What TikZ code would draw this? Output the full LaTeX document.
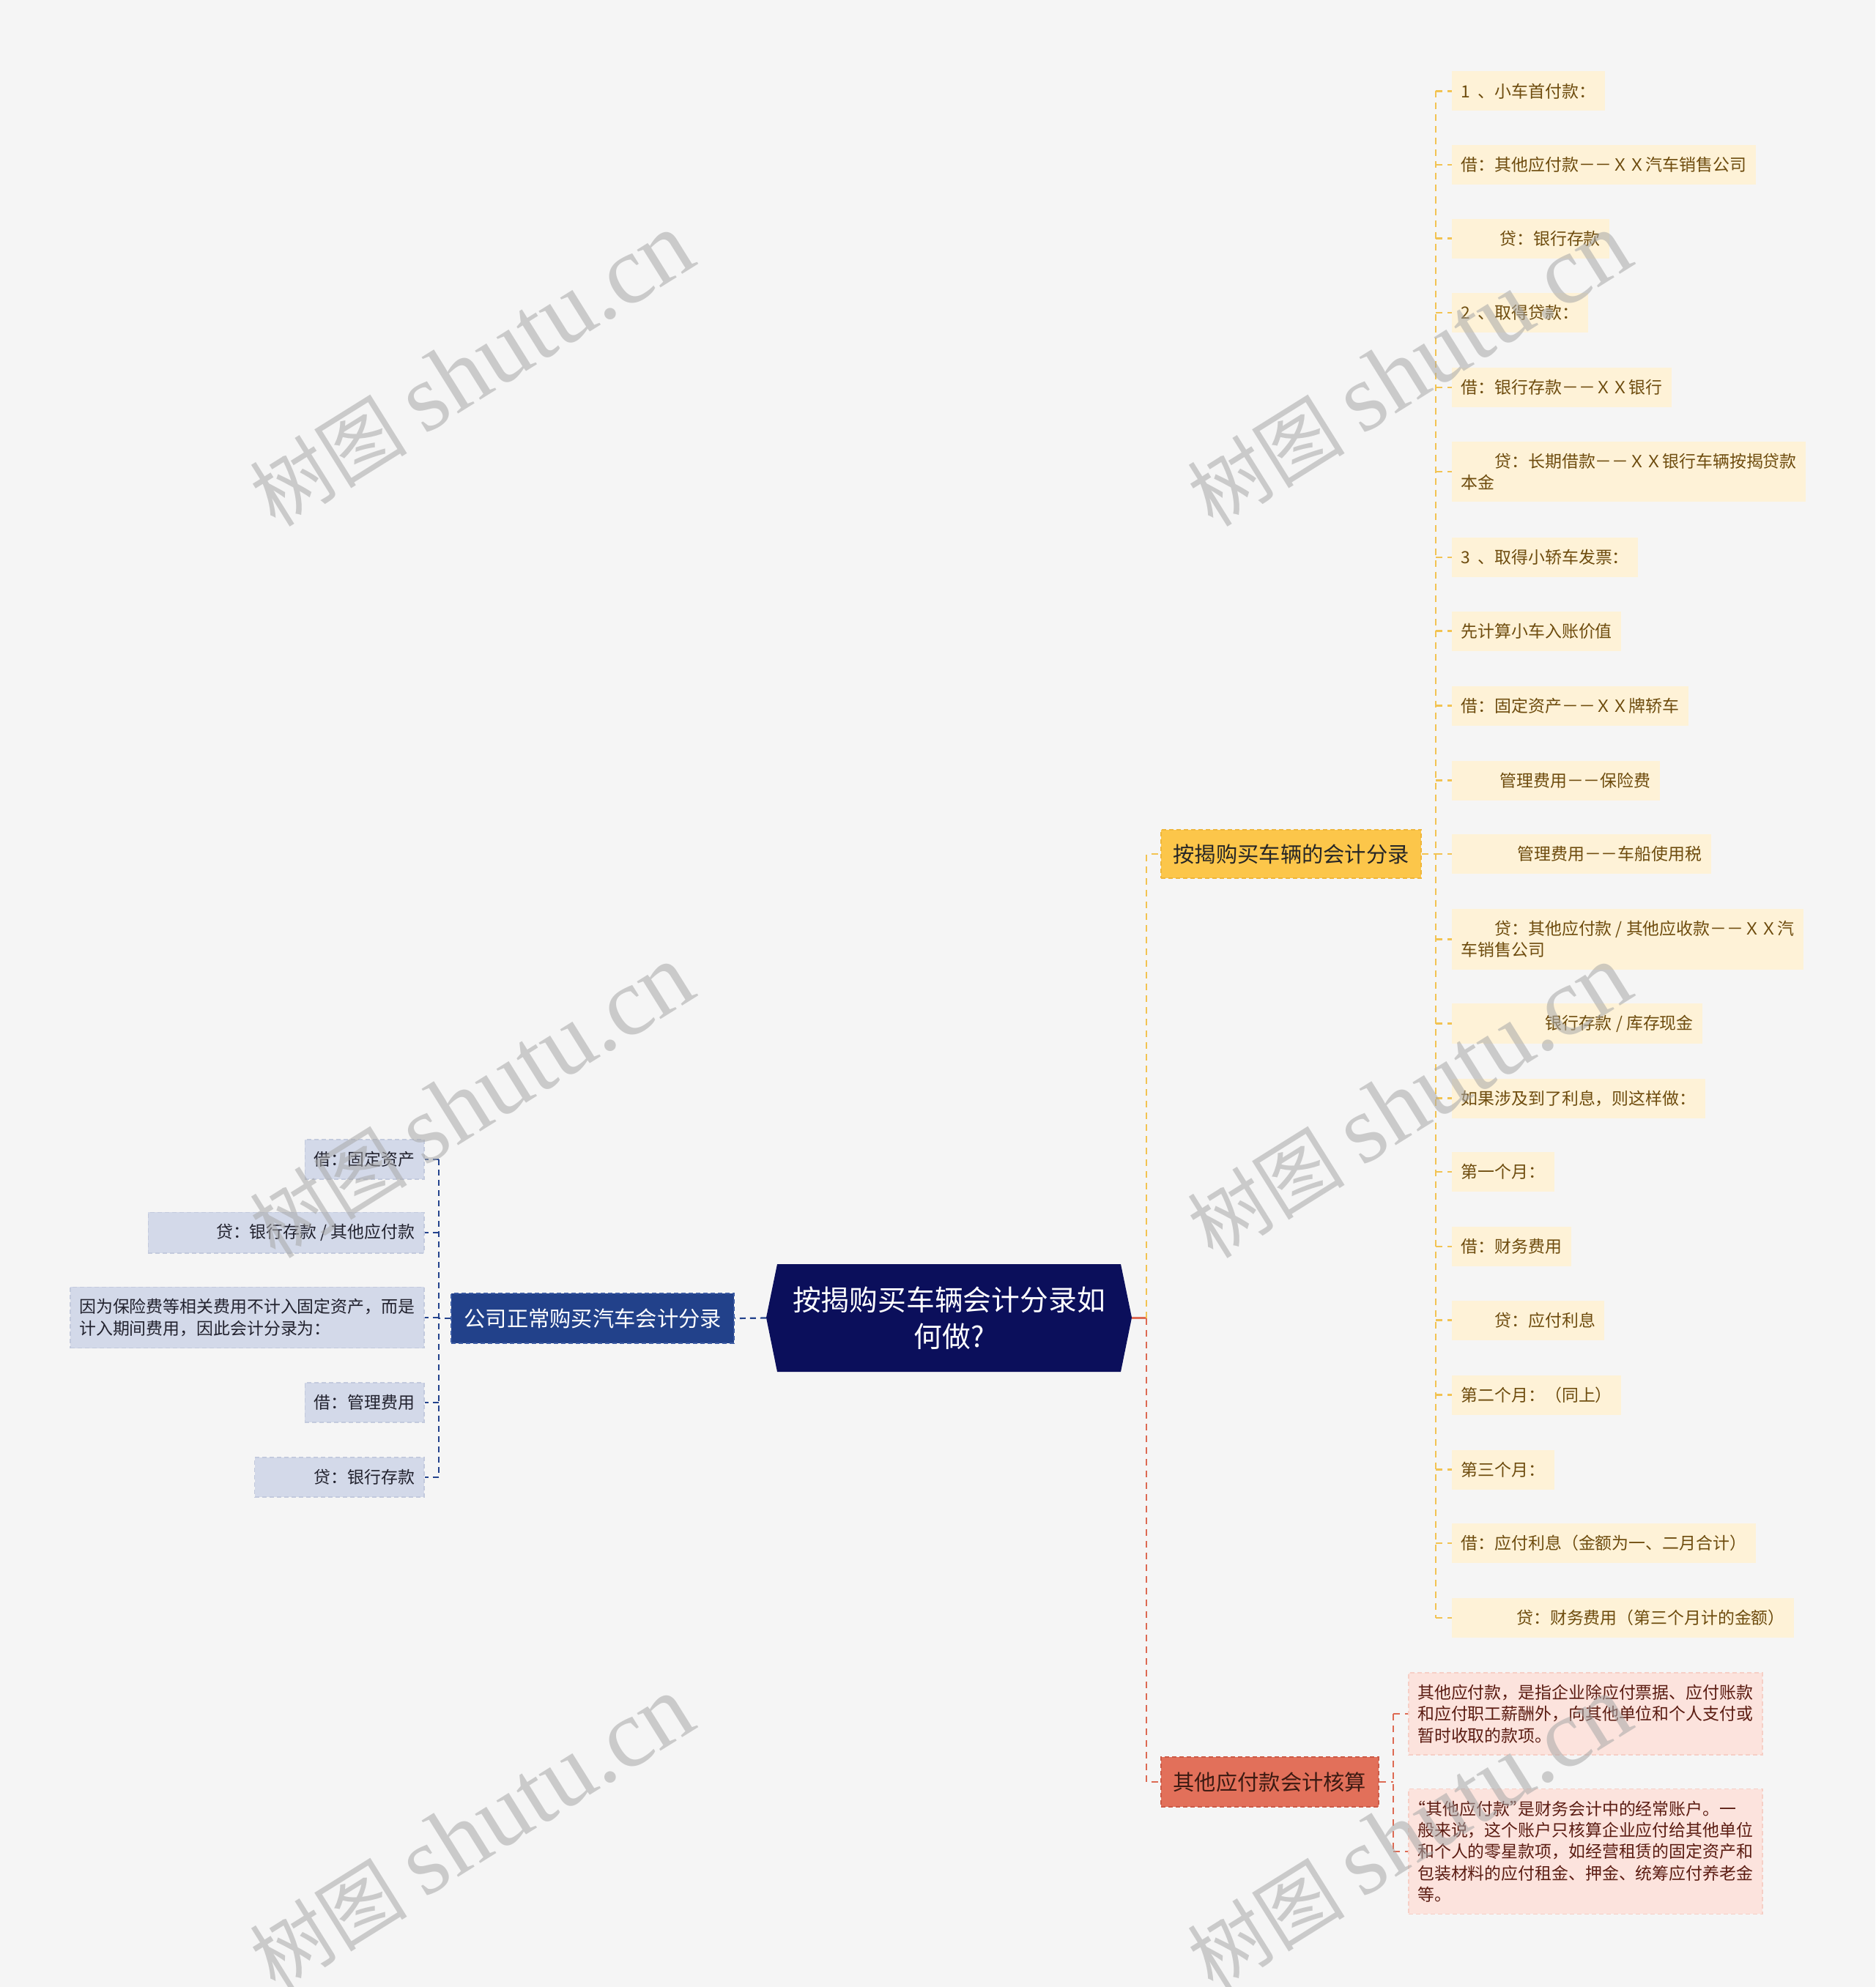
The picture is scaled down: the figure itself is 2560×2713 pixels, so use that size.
\documentclass[tikz,border=0pt]{standalone}
\usepackage{fontspec}
\newfontfamily\cjk{Noto Sans CJK SC}
\newfontfamily\wmlat{Liberation Serif}
\definecolor{bgc}{HTML}{F5F5F5}
\definecolor{rootc}{HTML}{0B0F5B}
\definecolor{bmainc}{HTML}{22418A}
\definecolor{bmaind}{HTML}{3D5CA3}
\definecolor{bleafc}{HTML}{D3D9E9}
\definecolor{bleafd}{HTML}{C3CADD}
\definecolor{bleaft}{HTML}{22222E}
\definecolor{ymainc}{HTML}{FCC64A}
\definecolor{ymaind}{HTML}{EFB63A}
\definecolor{yleafc}{HTML}{FEF2D7}
\definecolor{yleaft}{HTML}{6E4C0E}
\definecolor{rmainc}{HTML}{E2705A}
\definecolor{rmaind}{HTML}{CC5B47}
\definecolor{rleafc}{HTML}{FCE3DD}
\definecolor{rleafd}{HTML}{F6CFC6}
\definecolor{rleaft}{HTML}{5B1C12}
\definecolor{rmaint}{HTML}{3C1A12}
\definecolor{blinec}{HTML}{23428C}
\definecolor{ylinec}{HTML}{F2C352}
\definecolor{rlinec}{HTML}{DD6A53}
\definecolor{wmc}{HTML}{A8A8A8}
\newcommand{\myopenq}{\makebox[0.5em][r]{“}}
\newcommand{\mycloseq}{\makebox[0.5em][l]{”}}
\begin{document}
\begin{tikzpicture}[x=1pt,y=-1pt,
  leaffont/.style={font=\cjk\fontsize{22.9pt}{29.4pt}\selectfont},
  mainfont/.style={font=\cjk\fontsize{29.3pt}{36pt}\selectfont},
  mainbox/.style={mainfont, inner xsep=16.5pt, inner ysep=0pt, line width=2pt, dash pattern=on 6pt off 4pt},
  leafbox/.style={leaffont, inner xsep=12.5pt, inner ysep=16pt, minimum height=54pt, line width=1.5pt, dash pattern=on 6pt off 4pt},
  bmain/.style={mainbox, fill=bmainc, draw=bmaind, text=white, minimum height=68pt, inner xsep=17pt},
  ymain/.style={mainbox, fill=ymainc, draw=ymaind, text=black!85, minimum height=66pt},
  rmain/.style={mainbox, fill=rmainc, draw=rmaind, text=rmaint, minimum height=68pt},
  bleaf/.style={leafbox, fill=bleafc, draw=bleafd, text=bleaft, anchor=east},
  yleaf/.style={leafbox, fill=yleafc, text=yleaft, anchor=west},
  rleaf/.style={leafbox, fill=rleafc, draw=rleafd, text=rleaft, anchor=west, align=left},
  bline/.style={draw=blinec, line width=2.2pt, dash pattern=on 8pt off 6pt},
  yline/.style={draw=ylinec, line width=2.5pt, dash pattern=on 9pt off 7pt},
  rline/.style={draw=rlinec, line width=2.5pt, dash pattern=on 9pt off 7pt},
  wm/.style={text=wmc, opacity=0.55, rotate=32, inner sep=0pt}
]
\useasboundingbox (0,0) rectangle (2560,2713);
\fill[bgc] (0,0) rectangle (2560,2713);

% root
\fill[rootc] (1046,1799) -- (1061,1726) -- (1530,1726) -- (1545,1799) -- (1530,1873) -- (1061,1873) -- cycle;
\node[minimum width=499pt, minimum height=147pt, inner sep=0pt, text=white, align=center,
      font=\cjk\fontsize{38.8pt}{50pt}\selectfont] (root) at (1295.5,1799.5) {按揭购买车辆会计分录如\\何做?};

% main branches
\node[bmain, anchor=east] (bm) at (1003,1800) {公司正常购买汽车会计分录};
\node[ymain, anchor=west] (ym) at (1584,1166) {按揭购买车辆的会计分录};
\node[rmain, anchor=west] (rm) at (1584,2433) {其他应付款会计核算};

% left leaves
\node[bleaf] (b1) at (579.5,1583) {借：固定资产};
\node[bleaf] (b2) at (579.5,1683) {\hspace*{3.5em}贷：银行存款 / 其他应付款};
\node[bleaf, align=left] (b3) at (579.5,1799) {因为保险费等相关费用不计入固定资产，而是\\计入期间费用，因此会计分录为：};
\node[bleaf] (b4) at (579.5,1915) {借：管理费用};
\node[bleaf] (b5) at (579.5,2017) {\hspace*{3em}贷：银行存款};

% right yellow leaves
\node[yleaf] (y1) at (1981.5,124.5) {1\hspace{0.45em}、小车首付款：};
\node[yleaf] (y2) at (1981.5,225) {借：其他应付款－－ＸＸ汽车销售公司};
\node[yleaf] (y3) at (1981.5,325.5) {\hspace*{2.3em}贷：银行存款};
\node[yleaf] (y4) at (1981.5,427) {2\hspace{0.45em}、取得贷款：};
\node[yleaf] (y5) at (1981.5,529) {借：银行存款－－ＸＸ银行};
\node[yleaf, align=left] (y6) at (1981.5,644) {\hspace*{2em}贷：长期借款－－ＸＸ银行车辆按揭贷款\\本金};
\node[yleaf] (y7) at (1981.5,761) {3\hspace{0.45em}、取得小轿车发票：};
\node[yleaf] (y8) at (1981.5,861.5) {先计算小车入账价值};
\node[yleaf] (y9) at (1981.5,963.5) {借：固定资产－－ＸＸ牌轿车};
\node[yleaf] (y10) at (1981.5,1065.5) {\hspace*{2.3em}管理费用－－保险费};
\node[yleaf] (y11) at (1981.5,1166) {\hspace*{3.35em}管理费用－－车船使用税};
\node[yleaf, align=left] (y12) at (1981.5,1282.5) {\hspace*{2em}贷：其他应付款 / 其他应收款－－ＸＸ汽\\车销售公司};
\node[yleaf] (y13) at (1981.5,1397.5) {\hspace*{5em}银行存款 / 库存现金};
\node[yleaf] (y14) at (1981.5,1499.5) {如果涉及到了利息，则这样做：};
\node[yleaf] (y15) at (1981.5,1600) {第一个月：};
\node[yleaf] (y16) at (1981.5,1702) {借：财务费用};
\node[yleaf] (y17) at (1981.5,1802.5) {\hspace*{2em}贷：应付利息};
\node[yleaf] (y18) at (1981.5,1904.5) {第二个月：（同上）};
\node[yleaf] (y19) at (1981.5,2006.5) {第三个月：};
\node[yleaf] (y20) at (1981.5,2107) {借：应付利息（金额为一、二月合计）};
\node[yleaf] (y21) at (1981.5,2209) {\hspace*{3.3em}贷：财务费用（第三个月计的金额）};

% right red leaves
\node[rleaf] (r1) at (1922,2340) {其他应付款，是指企业除应付票据、应付账款\\和应付职工薪酬外，向其他单位和个人支付或\\暂时收取的款项。};
\node[rleaf] (r2) at (1922,2528) {\myopenq 其他应付款\mycloseq 是财务会计中的经常账户。一\\般来说，这个账户只核算企业应付给其他单位\\和个人的零星款项，如经营租赁的固定资产和\\包装材料的应付租金、押金、统筹应付养老金\\等。};

% connectors: root to branches
\draw[bline] (root.west) -- (bm.east);
\coordinate (rj) at (1565,1799.5);
\draw[draw=rlinec, line width=2.5pt] (root.east) -- (rj);
\draw[yline] (rj) -- (rj |- ym.west) -- (ym.west);
\draw[rline] (rj) -- (rj |- rm.west) -- (rm.west);

% left branch to leaves
\coordinate (bj) at (599,1800);
\draw[bline] (bm.west) -- (bj);
\draw[bline] (bj |- b1.east) -- (bj |- b5.east);
\foreach \n in {b1,b2,b3,b4,b5} \draw[bline] (bj |- \n.east) -- (\n.east);

% yellow branch to leaves
\coordinate (yj) at (1960,1166);
\draw[yline] (ym.east) -- (yj);
\draw[yline] (yj |- y1.west) -- (yj |- y21.west);
\foreach \n in {y1,y2,y3,y4,y5,y6,y7,y8,y9,y10,y11,y12,y13,y14,y15,y16,y17,y18,y19,y20,y21}
  \draw[yline] (yj |- \n.west) -- (\n.west);

% red branch to leaves
\coordinate (rk) at (1902,2433);
\draw[rline] (rm.east) -- (rk);
\draw[rline] (rk |- r1.west) -- (rk |- r2.west);
\foreach \n in {r1,r2} \draw[rline] (rk |- \n.west) -- (\n.west);

% watermarks
\foreach \p [count=\i] in {(644,505),(1924,505),(644,1504),(1924,1504),(644,2503),(1924,2503)}
  \node[wm] (wm\i) at \p {{\cjk\fontsize{108pt}{108pt}\selectfont 树图}\hspace{24pt}{\wmlat\fontsize{132pt}{132pt}\selectfont shutu.cn}};
\end{tikzpicture}
\end{document}
